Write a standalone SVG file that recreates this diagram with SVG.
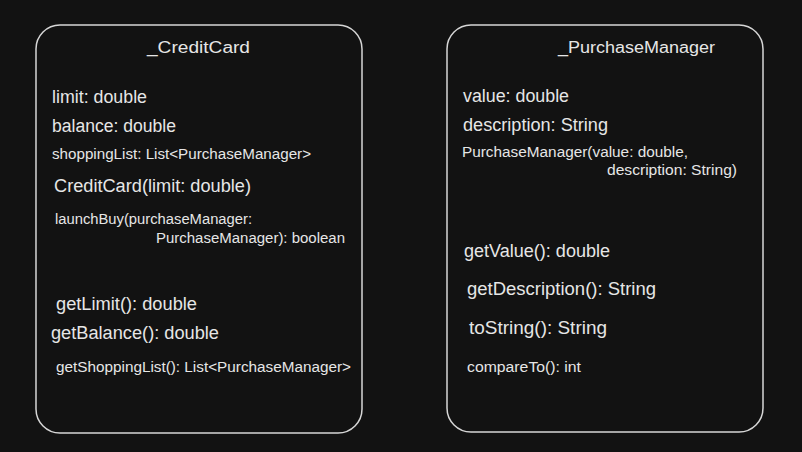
<svg xmlns="http://www.w3.org/2000/svg" width="802" height="452" viewBox="0 0 802 452">
<style>
.box{fill:#121212;stroke:#d6d6d6;stroke-width:1.5}
text{font-family:"Liberation Sans","DejaVu Sans",sans-serif;fill:#e6e6e6}
.t{font-size:16px}
.l{font-size:18px}
.s{font-size:14px}
</style>
<rect width="802" height="452" fill="#121212"/>
<g id="creditcard">
<rect class="box" x="36" y="25" width="326" height="408" rx="24"/>
<text class="t" x="147" y="53" textLength="103" lengthAdjust="spacingAndGlyphs">_CreditCard</text>
<text class="l" x="52" y="103" textLength="95" lengthAdjust="spacingAndGlyphs">limit: double</text>
<text class="l" x="52" y="132" textLength="124" lengthAdjust="spacingAndGlyphs">balance: double</text>
<text class="s" x="52" y="159" textLength="259" lengthAdjust="spacingAndGlyphs">shoppingList: List&lt;PurchaseManager&gt;</text>
<text class="l" x="54" y="192" textLength="197" lengthAdjust="spacingAndGlyphs">CreditCard(limit: double)</text>
<text class="s" x="55" y="224" textLength="197" lengthAdjust="spacingAndGlyphs">launchBuy(purchaseManager:</text>
<text class="s" x="156" y="243" textLength="189" lengthAdjust="spacingAndGlyphs">PurchaseManager): boolean</text>
<text class="l" x="56" y="310" textLength="141" lengthAdjust="spacingAndGlyphs">getLimit(): double</text>
<text class="l" x="51" y="339" textLength="168" lengthAdjust="spacingAndGlyphs">getBalance(): double</text>
<text class="s" x="56" y="372" textLength="295" lengthAdjust="spacingAndGlyphs">getShoppingList(): List&lt;PurchaseManager&gt;</text>
</g>
<g id="purchasemanager">
<rect class="box" x="447" y="25" width="316" height="407" rx="24"/>
<text class="t" x="558" y="53" textLength="157" lengthAdjust="spacingAndGlyphs">_PurchaseManager</text>
<text class="l" x="463" y="102" textLength="106" lengthAdjust="spacingAndGlyphs">value: double</text>
<text class="l" x="463" y="131" textLength="145" lengthAdjust="spacingAndGlyphs">description: String</text>
<text class="s" x="462" y="157" textLength="226" lengthAdjust="spacingAndGlyphs">PurchaseManager(value: double,</text>
<text class="s" x="607" y="175" textLength="130" lengthAdjust="spacingAndGlyphs">description: String)</text>
<text class="l" x="464" y="257" textLength="146" lengthAdjust="spacingAndGlyphs">getValue(): double</text>
<text class="l" x="467" y="295" textLength="189" lengthAdjust="spacingAndGlyphs">getDescription(): String</text>
<text class="l" x="469" y="334" textLength="138" lengthAdjust="spacingAndGlyphs">toString(): String</text>
<text class="s" x="467" y="372" textLength="114" lengthAdjust="spacingAndGlyphs">compareTo(): int</text>
</g>
<g id="connectors"></g>
</svg>
